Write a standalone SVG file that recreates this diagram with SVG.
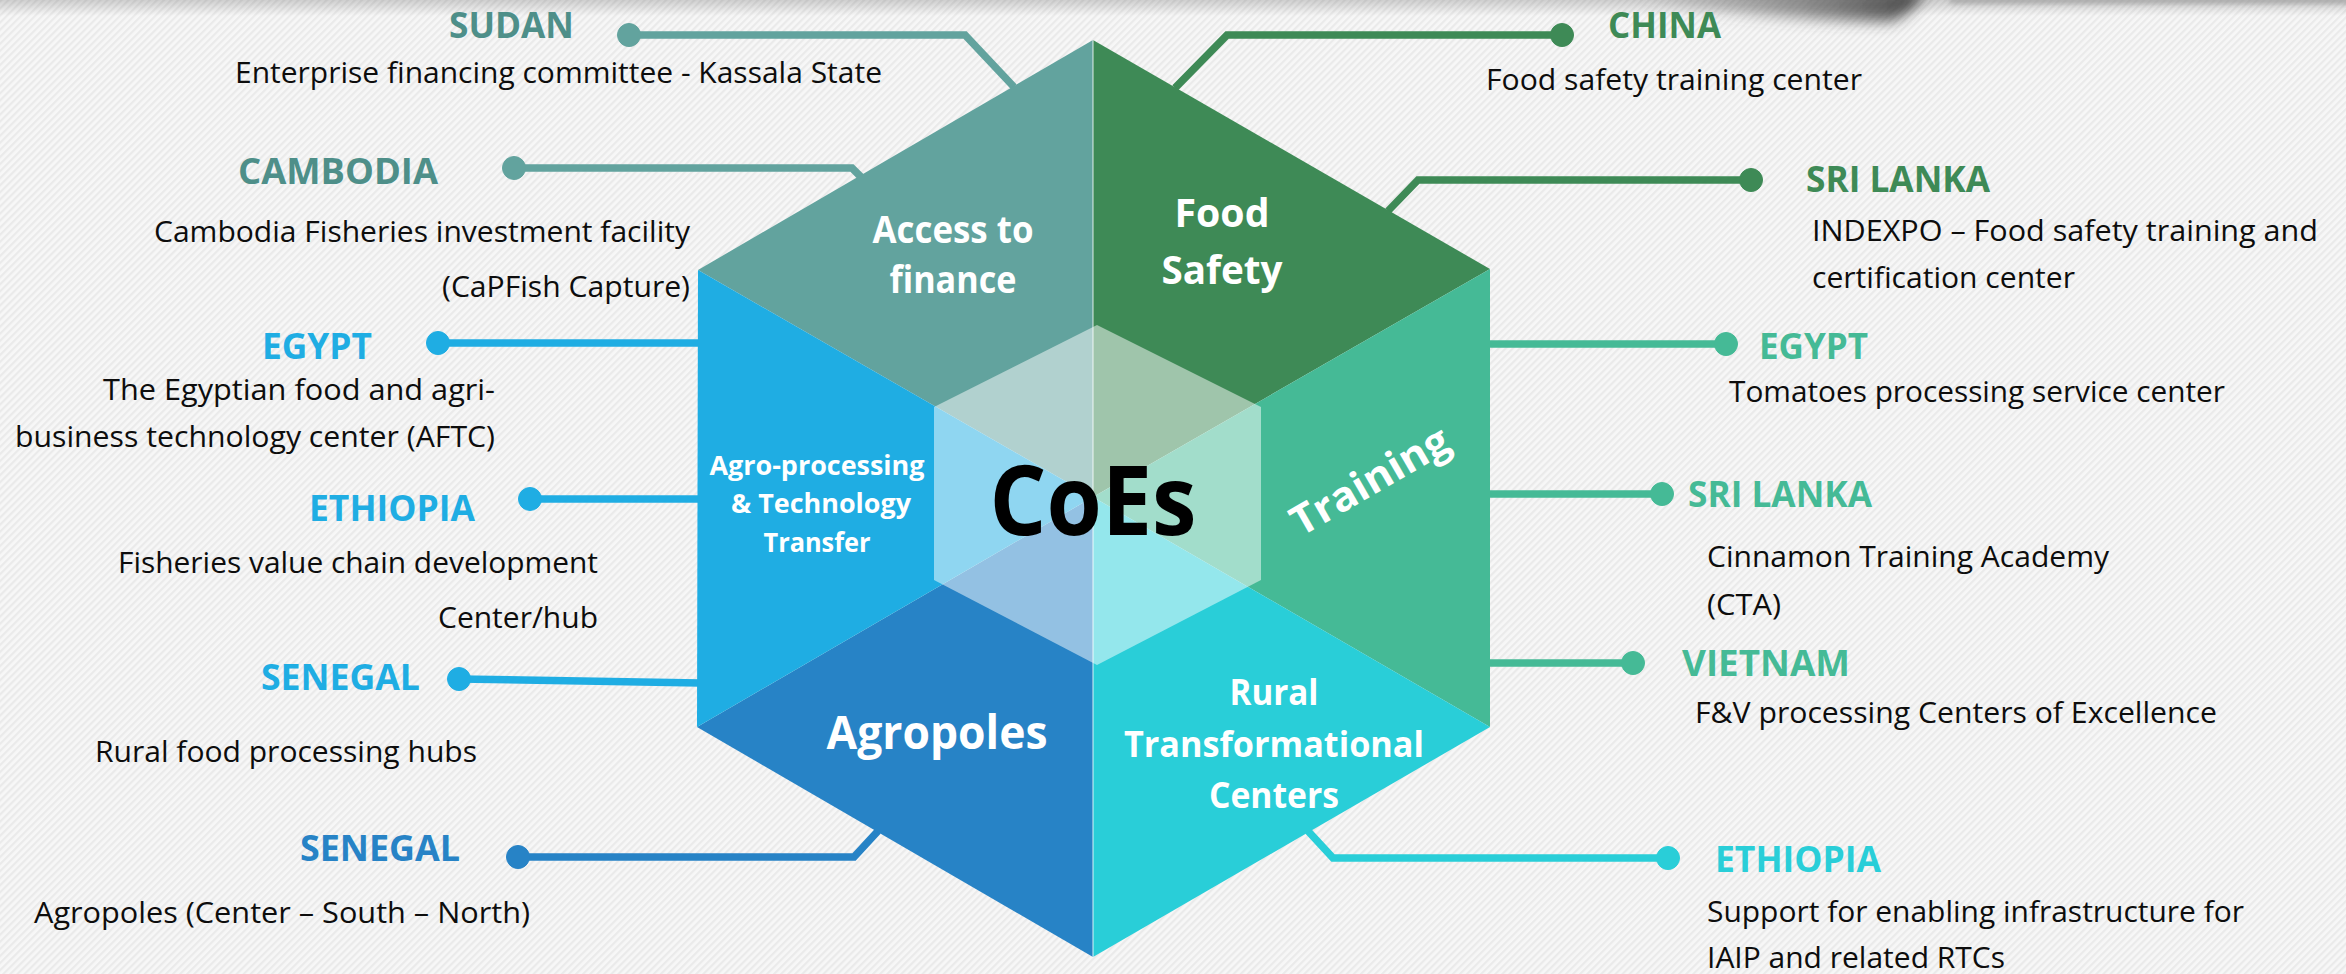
<svg xmlns="http://www.w3.org/2000/svg" width="2346" height="974" viewBox="0 0 2346 974">
<defs>
<pattern id="stripes" width="5" height="5" patternUnits="userSpaceOnUse" patternTransform="rotate(45)">
<rect width="5" height="5" fill="#f7f7f7"/>
<rect width="2.2" height="5" fill="#eaeaea"/>
</pattern>
<linearGradient id="topShade" x1="0" y1="0" x2="0" y2="1">
<stop offset="0" stop-color="#000" stop-opacity="0.16"/>
<stop offset="1" stop-color="#000" stop-opacity="0"/>
</linearGradient>
<linearGradient id="curl" x1="0" y1="0" x2="1" y2="0">
<stop offset="0" stop-color="#555" stop-opacity="0"/>
<stop offset="0.55" stop-color="#555" stop-opacity="0.55"/>
<stop offset="1" stop-color="#333" stop-opacity="0.9"/>
</linearGradient>
<filter id="blur8" x="-50%" y="-200%" width="200%" height="500%"><feGaussianBlur stdDeviation="7"/></filter>
<filter id="blur3" x="-10%" y="-200%" width="120%" height="500%"><feGaussianBlur stdDeviation="2.5"/></filter>
</defs>
<style>
.body{font-family:"Open Sans","Noto Sans","Liberation Sans",sans-serif;font-size:29px;fill:#0d0d0d}
.ctry{font-family:"Open Sans","Noto Sans","Liberation Sans",sans-serif;font-size:35px;font-weight:700}
.hl{font-family:"Open Sans","Noto Sans","Liberation Sans",sans-serif;font-weight:700;fill:#fff;text-anchor:middle}
.conn{fill:none;stroke-width:7.5;stroke-linejoin:miter}
.finance{fill:#62A39E}.food{fill:#3E8A56}.training{fill:#45BA96}.rural{fill:#29CED8}.agropoles{fill:#2783C6}.agro{fill:#1FADE3}
</style>

<!-- background -->
<rect width="2346" height="974" fill="url(#stripes)"/>
<rect width="2346" height="16" fill="url(#topShade)"/>
<path d="M1640,-10 L1925,-10 Q1915,14 1890,22 Q1760,20 1640,4 Z" fill="url(#curl)" filter="url(#blur8)"/>
<rect x="1950" y="-4" width="420" height="8" fill="#999" opacity="0.6" filter="url(#blur3)"/>

<!-- connectors -->
<g id="connectors">
<g stroke="#62A39E" fill="#62A39E">
<path class="conn" d="M629,35 H965 L1014,87"/><circle cx="629" cy="35" r="11.5"/>
<path class="conn" d="M514,168 H852 L861,177"/><circle cx="514" cy="168" r="11.5"/>
</g>
<g stroke="#3E8A56" fill="#3E8A56">
<path class="conn" d="M1562,35 H1227 L1175,88"/><circle cx="1562" cy="35" r="11.5"/>
<path class="conn" d="M1751,180 H1418 L1388,211"/><circle cx="1751" cy="180" r="11.5"/>
</g>
<g stroke="#1FADE3" fill="#1FADE3">
<path class="conn" d="M438,343 H700"/><circle cx="438" cy="343" r="11.5"/>
<path class="conn" d="M530,499 H700"/><circle cx="530" cy="499" r="11.5"/>
<path class="conn" d="M459,679 L700,683"/><circle cx="459" cy="679" r="11.5"/>
</g>
<g stroke="#2783C6" fill="#2783C6">
<path class="conn" d="M518,857 H854 L878,831"/><circle cx="518" cy="857" r="11.5"/>
</g>
<g stroke="#45BA96" fill="#45BA96">
<path class="conn" d="M1726,344 H1488"/><circle cx="1726" cy="344" r="11.5"/>
<path class="conn" d="M1662,494 H1488"/><circle cx="1662" cy="494" r="11.5"/>
<path class="conn" d="M1633,663 H1488"/><circle cx="1633" cy="663" r="11.5"/>
</g>
<g stroke="#29CED8" fill="#29CED8">
<path class="conn" d="M1668,858 H1333 L1308,831"/><circle cx="1668" cy="858" r="11.5"/>
</g>
</g>

<!-- hexagon segments -->
<g id="seg-finance"><polygon class="finance" points="1093,40 698,270 1093,497"/>
<text class="hl" font-size="37"><tspan x="953" y="243" textLength="161" lengthAdjust="spacingAndGlyphs">Access to</tspan><tspan x="953" y="293" textLength="127" lengthAdjust="spacingAndGlyphs">finance</tspan></text></g>
<g id="seg-food"><polygon class="food" points="1093,40 1490,269 1093,497"/>
<text class="hl" font-size="40"><tspan x="1222" y="227" textLength="95" lengthAdjust="spacingAndGlyphs">Food</tspan><tspan x="1222" y="284" textLength="121" lengthAdjust="spacingAndGlyphs">Safety</tspan></text></g>
<g id="seg-training"><polygon class="training" points="1490,269 1490,727 1093,497"/></g>
<g id="seg-rural"><polygon class="rural" points="1490,727 1093,957 1093,497"/></g>
<g id="seg-agropoles"><polygon class="agropoles" points="1093,957 697,727 1093,497"/></g>
<g id="seg-agro"><polygon class="agro" points="697,727 698,270 1093,497"/></g>

<!-- center -->
<g id="center">
<polygon points="1097,325 1261,407 1261,580 1097,665 934,580 934,407" fill="#fff" opacity="0.5"/>
<line x1="1093" y1="40" x2="1093" y2="957" stroke="#fff" stroke-width="1.5" opacity="0.55"/>
<text class="hl" font-size="96" style="fill:#000" x="1093" y="535" textLength="207" lengthAdjust="spacingAndGlyphs">CoEs</text>
</g>

<!-- segment labels on top -->
<g id="label-training"><text class="hl" font-size="41" transform="rotate(-30 1377 493)" x="1377" y="493" textLength="176" lengthAdjust="spacingAndGlyphs">Training</text></g>
<g id="label-rural"><text class="hl" font-size="36"><tspan x="1274" y="705" textLength="89" lengthAdjust="spacingAndGlyphs">Rural</tspan><tspan x="1274" y="757" textLength="300" lengthAdjust="spacingAndGlyphs">Transformational</tspan><tspan x="1274" y="808" textLength="130" lengthAdjust="spacingAndGlyphs">Centers</tspan></text></g>
<g id="label-agropoles"><text class="hl" font-size="47" x="937" y="749" textLength="221" lengthAdjust="spacingAndGlyphs">Agropoles</text></g>
<g id="label-agro"><text class="hl" font-size="26"><tspan x="817" y="475" textLength="215" lengthAdjust="spacingAndGlyphs">Agro-processing</tspan><tspan x="821" y="513" textLength="180" lengthAdjust="spacingAndGlyphs">&amp; Technology</tspan><tspan x="817" y="552" textLength="107" lengthAdjust="spacingAndGlyphs">Transfer</tspan></text></g>

<!-- country nodes -->
<g id="n-sudan"><text class="ctry" fill="#4E8F89" x="449" y="38" textLength="125" lengthAdjust="spacingAndGlyphs">SUDAN</text>
<text class="body" x="235" y="83" textLength="647" lengthAdjust="spacingAndGlyphs">Enterprise financing committee - Kassala State</text></g>
<g id="n-cambodia"><text class="ctry" fill="#4E8F89" x="238" y="184" textLength="200" lengthAdjust="spacingAndGlyphs">CAMBODIA</text>
<text class="body" x="154" y="242" textLength="536" lengthAdjust="spacingAndGlyphs">Cambodia Fisheries investment facility</text>
<text class="body" x="442" y="297" textLength="248" lengthAdjust="spacingAndGlyphs">(CaPFish Capture)</text></g>
<g id="n-egypt-l"><text class="ctry" fill="#1FADE3" x="262" y="359" textLength="110" lengthAdjust="spacingAndGlyphs">EGYPT</text>
<text class="body" x="103" y="400" textLength="392" lengthAdjust="spacingAndGlyphs">The Egyptian food and agri-</text>
<text class="body" x="15" y="447" textLength="480" lengthAdjust="spacingAndGlyphs">business technology center (AFTC)</text></g>
<g id="n-ethiopia-l"><text class="ctry" fill="#1FADE3" x="309" y="521" textLength="166" lengthAdjust="spacingAndGlyphs">ETHIOPIA</text>
<text class="body" x="118" y="573" textLength="480" lengthAdjust="spacingAndGlyphs">Fisheries value chain development</text>
<text class="body" x="438" y="628" textLength="160" lengthAdjust="spacingAndGlyphs">Center/hub</text></g>
<g id="n-senegal-1"><text class="ctry" fill="#1FADE3" x="261" y="690" textLength="159" lengthAdjust="spacingAndGlyphs">SENEGAL</text>
<text class="body" x="95" y="762" textLength="382" lengthAdjust="spacingAndGlyphs">Rural food processing hubs</text></g>
<g id="n-senegal-2"><text class="ctry" fill="#2783C6" x="300" y="861" textLength="160" lengthAdjust="spacingAndGlyphs">SENEGAL</text>
<text class="body" x="34" y="923" textLength="496" lengthAdjust="spacingAndGlyphs">Agropoles (Center – South – North)</text></g>
<g id="n-china"><text class="ctry" fill="#3E8A56" x="1608" y="38" textLength="113" lengthAdjust="spacingAndGlyphs">CHINA</text>
<text class="body" x="1486" y="90" textLength="376" lengthAdjust="spacingAndGlyphs">Food safety training center</text></g>
<g id="n-srilanka-1"><text class="ctry" fill="#3E8A56" x="1806" y="192" textLength="184" lengthAdjust="spacingAndGlyphs">SRI LANKA</text>
<text class="body" x="1812" y="241" textLength="506" lengthAdjust="spacingAndGlyphs">INDEXPO – Food safety training and</text>
<text class="body" x="1812" y="288" textLength="263" lengthAdjust="spacingAndGlyphs">certification center</text></g>
<g id="n-egypt-r"><text class="ctry" fill="#45BA96" x="1759" y="359" textLength="109" lengthAdjust="spacingAndGlyphs">EGYPT</text>
<text class="body" x="1729" y="402" textLength="496" lengthAdjust="spacingAndGlyphs">Tomatoes processing service center</text></g>
<g id="n-srilanka-2"><text class="ctry" fill="#45BA96" x="1688" y="507" textLength="184" lengthAdjust="spacingAndGlyphs">SRI LANKA</text>
<text class="body" x="1707" y="567" textLength="402" lengthAdjust="spacingAndGlyphs">Cinnamon Training Academy</text>
<text class="body" x="1707" y="615" textLength="74" lengthAdjust="spacingAndGlyphs">(CTA)</text></g>
<g id="n-vietnam"><text class="ctry" fill="#45BA96" x="1682" y="676" textLength="168" lengthAdjust="spacingAndGlyphs">VIETNAM</text>
<text class="body" x="1695" y="723" textLength="522" lengthAdjust="spacingAndGlyphs">F&amp;V processing Centers of Excellence</text></g>
<g id="n-ethiopia-r"><text class="ctry" fill="#29CED8" x="1715" y="872" textLength="166" lengthAdjust="spacingAndGlyphs">ETHIOPIA</text>
<text class="body" x="1707" y="922" textLength="537" lengthAdjust="spacingAndGlyphs">Support for enabling infrastructure for</text>
<text class="body" x="1707" y="968" textLength="298" lengthAdjust="spacingAndGlyphs">IAIP and related RTCs</text></g>
</svg>
